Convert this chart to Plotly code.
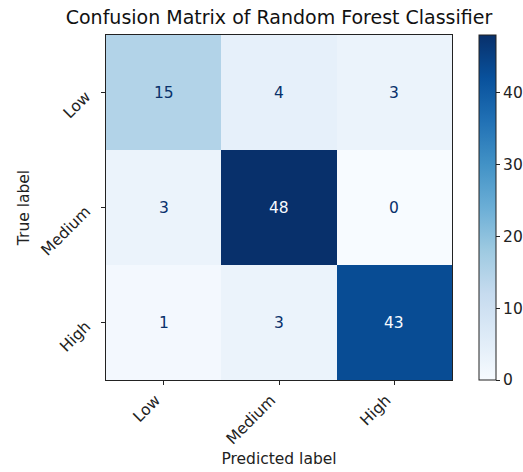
import plotly.graph_objects as go

# Confusion matrix counts (rows: true class, columns: predicted class)
classes = ["Low", "Medium", "High"]
counts = [
    [15, 4, 3],
    [3, 48, 0],
    [1, 3, 43],
]
colorbar_ticks = [0, 10, 20, 30, 40]

# Matplotlib-style "Blues" colour map
blues = [
    "#f7fbff", "#deebf7", "#c6dbef", "#9ecae1", "#6baed6",
    "#4292c6", "#2171b5", "#08519c", "#08306b",
]
scale = [[i / (len(blues) - 1), c] for i, c in enumerate(blues)]

zmin, zmax = 0, max(max(r) for r in counts)
thresh = (zmin + zmax) / 2

FONT = "DejaVu Sans"
FS = 15.5
INK = "#222"

W, H = 523, 472
L, R, T, B = 106, 71, 35, 92
plot_w = W - L - R

fig = go.Figure(
    go.Heatmap(
        z=counts,
        x=classes,
        y=classes,
        colorscale=scale,
        zmin=zmin,
        zmax=zmax,
        showscale=True,
        colorbar=dict(
            x=1 + (479 - 452) / plot_w,
            xanchor="left",
            xpad=0,
            y=0.5,
            len=1,
            lenmode="fraction",
            ypad=0,
            thickness=17,
            outlinewidth=1,
            outlinecolor=INK,
            tickvals=colorbar_ticks,
            ticks="outside",
            ticklen=4,
            tickcolor=INK,
            tickfont=dict(family=FONT, size=FS, color=INK),
        ),
        hoverinfo="skip",
    )
)

# Cell annotations: light text on dark cells, dark text on light cells
for i, row in enumerate(counts):
    for j, v in enumerate(row):
        fig.add_annotation(
            x=classes[j],
            y=classes[i],
            text=str(v),
            showarrow=False,
            font=dict(family=FONT, size=FS,
                      color="#f7fbff" if v > thresh else "#08306b"),
        )

axis_common = dict(
    showline=True,
    linecolor=INK,
    linewidth=1,
    mirror=True,
    ticks="outside",
    ticklen=4,
    tickcolor=INK,
    tickangle=-45,
    tickfont=dict(family=FONT, size=FS, color=INK),
    showgrid=False,
    zeroline=False,
)

fig.update_layout(
    width=W,
    height=H,
    margin=dict(l=L, r=R, t=T, b=B, autoexpand=False),
    paper_bgcolor="white",
    plot_bgcolor="white",
    title=dict(
        text="Confusion Matrix of Random Forest Classifier",
        x=(L + plot_w / 2) / W,
        xanchor="center",
        y=1 - 17 / H,
        yanchor="middle",
        font=dict(family=FONT, size=19, color="#111"),
    ),
    xaxis=dict(
        **axis_common,
        ticklabelshift=-8,
        title=dict(text="Predicted label", standoff=6,
                   font=dict(family=FONT, size=FS, color=INK)),
    ),
    yaxis=dict(
        **axis_common,
        autorange="reversed",
        ticklabelstandoff=12,
        ticklabelshift=-2,
        title=dict(text="True label", standoff=4,
                   font=dict(family=FONT, size=FS, color=INK)),
    ),
)

fig.write_html("out.html")
